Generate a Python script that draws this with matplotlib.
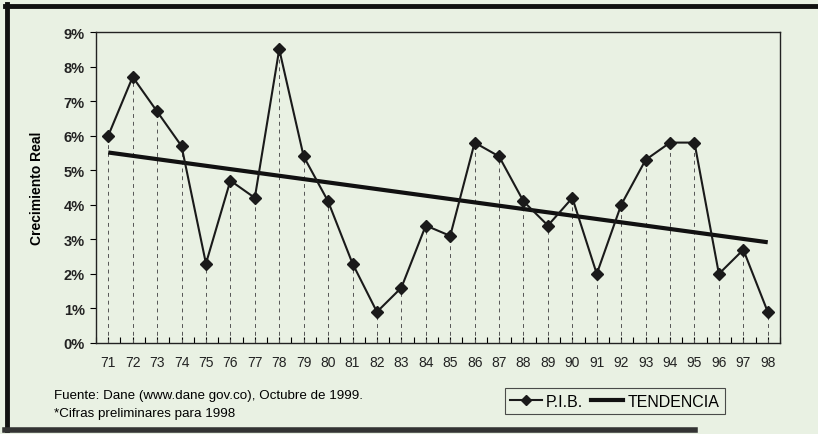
import numpy as np
import matplotlib.pyplot as plt
from matplotlib.lines import Line2D

years = np.arange(71, 99)
year_labels = [str(y) for y in years]
pib = [6.0, 7.7, 6.7, 5.7, 2.3, 4.7, 4.2, 8.5, 5.4, 4.1, 2.3, 0.9, 1.6, 3.4,
       3.1, 5.8, 5.4, 4.1, 3.4, 4.2, 2.0, 4.0, 5.3, 5.8, 5.8, 2.0, 2.7, 0.9]
y_ticks = list(range(0, 10))

bg = '#e9f1e3'
plt.rcParams['font.family'] = ['Liberation Sans', 'DejaVu Sans']

fig = plt.figure(figsize=(8.18, 4.35), dpi=100, facecolor=bg)
ax = fig.add_axes([0.1174, 0.2092, 0.8361, 0.7149])
ax.set_facecolor(bg)

# drop lines
ax.vlines(years, 0, pib, colors='#555555', linestyles=(0, (4, 4)), linewidth=0.7)

# trend = linear fit of the series
coef = np.polyfit(years, pib, 1)
trend = np.polyval(coef, years)
ax.plot(years, trend, color='#111111', linewidth=3.0, solid_capstyle='butt')
ax.plot(years, pib, color='#1a1a1a', linewidth=1.5, marker='D', markersize=6)

ax.set_xlim(70.5, 98.5)
ax.set_ylim(0, 9)
ax.set_yticks(y_ticks)
ax.set_yticklabels([f'{v}%' for v in y_ticks], fontsize=10.5, fontweight='bold', color='#222222')
ax.set_xticks(years)
ax.set_xticklabels(year_labels, fontsize=10, color='#222222')
ax.set_xticks(np.arange(70.5, 99, 1), minor=True)
ax.tick_params(axis='y', direction='out', length=4, width=0.8, pad=4)
ax.tick_params(axis='x', which='both', direction='in', length=4, width=0.8, pad=9)
ax.set_ylabel('Crecimiento Real', fontsize=10, fontweight='bold', labelpad=14)

for s in ax.spines.values():
    s.set_linewidth(1.0)
    s.set_color('#222222')

fig.text(0.066, 0.082, 'Fuente: Dane (www.dane gov.co), Octubre de 1999.', fontsize=9.6)
fig.text(0.066, 0.042, '*Cifras preliminares para 1998', fontsize=9.6)

handles = [Line2D([], [], color='#1a1a1a', linewidth=1.5, marker='D', markersize=5),
           Line2D([], [], color='#111111', linewidth=3.0)]
leg = fig.legend(handles, ['P.I.B.', 'TENDENCIA'], loc='lower left',
                 bbox_to_anchor=(0.617, 0.045), ncol=2, fontsize=11.5,
                 frameon=True, fancybox=False, handlelength=2.0, handletextpad=0.25,
                 columnspacing=0.5, borderpad=0.35, borderaxespad=0)
leg.get_frame().set_edgecolor('#222222')
leg.get_frame().set_facecolor(bg)
leg.get_frame().set_linewidth(0.8)

# scanned frame around the figure
fig.add_artist(Line2D([0.008, 0.008], [0.01, 0.988], color='#111111', linewidth=3.5))
fig.add_artist(Line2D([0.006, 1.0], [0.983, 0.983], color='#111111', linewidth=3.5))
fig.add_artist(Line2D([0.006, 0.85], [0.01, 0.01], color='#333333', linewidth=4))

fig.savefig('out.png', dpi=100, facecolor=bg)
